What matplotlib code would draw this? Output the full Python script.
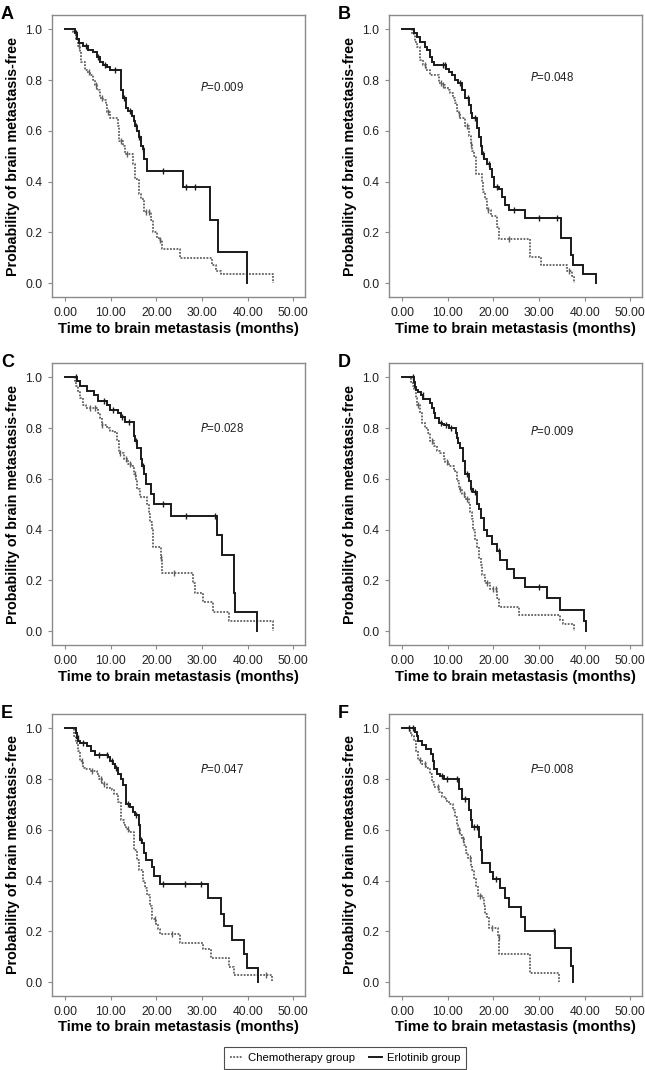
import numpy as np
import matplotlib
matplotlib.use("Agg")
import matplotlib.pyplot as plt
from matplotlib.lines import Line2D

plt.rcParams['font.family'] = ['Liberation Sans', 'DejaVu Sans']

# ---------------- data (event times and survival after each step) ----------------
panel_labels = ["A", "B", "C", "D", "E", "F"]
p_values = ["0.009", "0.048", "0.028", "0.009", "0.047", "0.008"]
x_ticks = [0, 10, 20, 30, 40, 50]
y_ticks = [0.0, 0.2, 0.4, 0.6, 0.8, 1.0]

# Panel A
a_erl_t = [2.2, 2.6, 3.1, 4.0, 5.1, 6.1, 6.9, 7.7, 8.4, 9.1, 9.9, 12.2, 12.6, 13.4, 13.9, 14.6, 15.0, 15.3,
           15.7, 16.1, 16.6, 17.0, 17.3, 17.9, 25.9, 31.8, 33.4, 39.9]
a_erl_s = [0.985, 0.96, 0.945, 0.935, 0.92, 0.91, 0.89, 0.87, 0.86, 0.85, 0.84, 0.76, 0.73, 0.69, 0.68, 0.66,
           0.64, 0.62, 0.60, 0.575, 0.54, 0.53, 0.49, 0.44, 0.38, 0.25, 0.125, 0.0]
a_erl_c = [2.5, 4.5, 7.2, 8.8, 11.0, 13.0, 14.2, 15.5, 16.3, 17.1, 21.5, 26.4, 28.5]
a_che_t = [1.8, 2.4, 2.9, 3.3, 3.6, 4.4, 4.9, 5.5, 6.1, 6.6, 7.1, 7.7, 8.4, 9.0, 9.3, 9.9, 11.5, 11.9, 12.6,
           13.1, 14.8, 15.3, 16.1, 16.6, 17.2, 18.8, 19.3, 20.1, 20.6, 21.2, 25.2, 32.1, 33.0, 34.2, 45.5]
a_che_s = [0.99, 0.96, 0.935, 0.91, 0.87, 0.84, 0.83, 0.82, 0.80, 0.78, 0.76, 0.73, 0.72, 0.70, 0.675, 0.65,
           0.62, 0.56, 0.54, 0.51, 0.47, 0.41, 0.35, 0.33, 0.28, 0.25, 0.20, 0.18, 0.17, 0.135, 0.10, 0.07,
           0.05, 0.035, 0.0]
a_che_c = [3.0, 5.2, 6.8, 8.0, 9.5, 12.3, 13.5, 17.8, 18.3, 20.8]

# Panel B
b_erl_t = [2.6, 3.3, 4.0, 5.0, 5.5, 6.1, 6.6, 6.9, 9.7, 10.2, 10.9, 11.7, 12.2, 13.1, 13.9, 14.7, 15.0, 15.3,
           16.4, 16.8, 17.2, 17.5, 18.0, 18.6, 19.3, 19.7, 20.2, 21.2, 21.9, 22.6, 23.4, 27.0, 34.9, 37.0,
           37.4, 39.6, 42.5]
b_erl_s = [0.985, 0.97, 0.95, 0.93, 0.92, 0.89, 0.87, 0.86, 0.845, 0.83, 0.82, 0.80, 0.79, 0.76, 0.73, 0.70,
           0.67, 0.65, 0.61, 0.575, 0.54, 0.51, 0.49, 0.47, 0.45, 0.42, 0.38, 0.37, 0.34, 0.31, 0.29, 0.255,
           0.18, 0.11, 0.07, 0.035, 0.0]
b_erl_c = [9.0, 9.5, 12.8, 14.4, 16.0, 17.8, 19.0, 20.8, 24.5, 30.0, 34.0]
b_che_t = [2.2, 2.9, 3.3, 3.9, 4.7, 5.3, 6.1, 8.2, 8.8, 9.5, 10.2, 10.6, 11.2, 11.7, 12.0, 12.4, 12.8, 13.9,
           14.6, 15.0, 15.3, 15.7, 16.1, 17.5, 17.8, 18.2, 18.6, 19.5, 20.9, 21.2, 28.0, 30.5, 36.1, 37.2, 37.6]
b_che_s = [0.98, 0.95, 0.93, 0.88, 0.86, 0.84, 0.82, 0.79, 0.78, 0.77, 0.76, 0.75, 0.73, 0.71, 0.68, 0.665,
           0.65, 0.62, 0.58, 0.55, 0.52, 0.50, 0.43, 0.40, 0.36, 0.33, 0.29, 0.265, 0.22, 0.175, 0.105, 0.07,
           0.05, 0.03, 0.0]
b_che_c = [5.0, 8.5, 9.0, 12.5, 14.2, 15.1, 18.9, 23.4, 36.5]

# Panel C
c_erl_t = [2.6, 3.3, 4.9, 6.4, 7.3, 9.3, 9.9, 11.7, 12.2, 13.1, 15.0, 15.2, 15.3, 15.8, 16.6, 16.9, 17.3, 17.7,
           18.8, 19.5, 23.1, 33.2, 34.3, 36.9, 37.2, 42.0]
c_erl_s = [0.985, 0.965, 0.945, 0.93, 0.905, 0.89, 0.87, 0.86, 0.845, 0.825, 0.80, 0.77, 0.75, 0.72, 0.68,
           0.65, 0.62, 0.58, 0.54, 0.50, 0.455, 0.38, 0.30, 0.15, 0.075, 0.0]
c_erl_c = [2.4, 8.5, 10.5, 12.5, 14.0, 15.6, 17.0, 21.5, 26.6, 32.8]
c_che_t = [2.2, 2.5, 2.9, 3.3, 3.9, 4.6, 7.3, 7.7, 8.0, 9.1, 9.9, 10.9, 11.3, 11.8, 12.9, 13.8, 14.5, 15.0,
           15.5, 15.8, 16.4, 18.0, 18.4, 18.7, 19.0, 19.3, 21.0, 21.3, 28.0, 28.5, 30.3, 32.3, 36.0, 45.5]
c_che_s = [0.985, 0.965, 0.94, 0.92, 0.89, 0.88, 0.86, 0.84, 0.81, 0.80, 0.79, 0.78, 0.75, 0.70, 0.68, 0.66,
           0.65, 0.62, 0.59, 0.56, 0.53, 0.50, 0.46, 0.43, 0.40, 0.33, 0.29, 0.23, 0.19, 0.15, 0.115, 0.075,
           0.04, 0.0]
c_che_c = [5.5, 6.5, 8.2, 12.0, 13.3, 14.3, 15.3, 21.0, 23.8]

# Panel D
d_erl_t = [2.6, 2.9, 3.1, 3.6, 4.1, 4.7, 6.2, 6.6, 6.9, 7.3, 8.0, 8.8, 9.3, 10.2, 11.9, 12.1, 12.3, 12.8, 13.4,
           13.9, 14.7, 15.1, 15.5, 16.4, 16.8, 17.2, 17.9, 18.5, 19.7, 20.8, 21.5, 23.0, 24.6, 27.0, 31.8,
           34.5, 39.8, 40.3]
d_erl_s = [0.98, 0.96, 0.95, 0.94, 0.93, 0.915, 0.90, 0.88, 0.86, 0.84, 0.82, 0.815, 0.81, 0.80, 0.78, 0.76,
           0.74, 0.72, 0.67, 0.62, 0.59, 0.56, 0.55, 0.50, 0.48, 0.445, 0.40, 0.375, 0.345, 0.315, 0.28,
           0.245, 0.21, 0.175, 0.13, 0.085, 0.04, 0.0]
d_erl_c = [2.3, 4.5, 8.5, 9.7, 10.8, 14.3, 15.2, 16.0, 21.2, 30.0]
d_che_t = [2.0, 2.3, 2.6, 3.0, 3.3, 3.9, 4.4, 5.1, 5.6, 6.2, 6.9, 7.6, 8.4, 9.1, 9.5, 10.2, 11.3, 12.0, 12.4,
           13.1, 13.9, 14.6, 14.9, 15.3, 15.5, 15.9, 16.4, 16.8, 17.2, 17.5, 18.2, 19.3, 20.8, 21.3, 25.7,
           34.5, 35.3, 37.6]
d_che_s = [0.98, 0.965, 0.95, 0.92, 0.89, 0.86, 0.82, 0.80, 0.78, 0.75, 0.73, 0.71, 0.70, 0.68, 0.665, 0.65,
           0.63, 0.59, 0.56, 0.54, 0.52, 0.50, 0.47, 0.44, 0.40, 0.36, 0.33, 0.29, 0.26, 0.22, 0.19, 0.165,
           0.13, 0.095, 0.065, 0.045, 0.03, 0.0]
d_che_c = [3.6, 6.5, 9.8, 12.8, 13.5, 14.2, 18.7, 20.0, 20.5]

# Panel E
e_erl_t = [2.4, 2.6, 2.9, 3.3, 4.9, 5.6, 6.6, 9.5, 9.9, 10.5, 10.9, 11.7, 12.2, 12.8, 13.4, 14.3, 14.8, 15.3,
           16.1, 16.4, 16.9, 17.3, 17.7, 19.0, 19.5, 20.7, 31.4, 34.1, 34.8, 36.6, 39.2, 39.8, 42.2]
e_erl_s = [0.98, 0.96, 0.95, 0.94, 0.93, 0.91, 0.895, 0.885, 0.87, 0.86, 0.845, 0.82, 0.80, 0.775, 0.70,
           0.69, 0.67, 0.66, 0.62, 0.56, 0.55, 0.51, 0.48, 0.455, 0.42, 0.385, 0.33, 0.27, 0.22, 0.165, 0.11,
           0.055, 0.0]
e_erl_c = [2.8, 4.0, 7.5, 9.2, 10.2, 11.2, 13.9, 15.6, 16.6, 21.5, 26.3, 29.8]
e_che_t = [2.0, 2.4, 2.9, 3.3, 3.9, 4.4, 5.5, 6.9, 7.5, 8.2, 9.1, 10.2, 10.7, 11.7, 12.2, 13.0, 13.4, 14.1,
           15.1, 15.8, 16.3, 17.0, 17.5, 18.0, 18.6, 19.0, 20.0, 20.4, 20.9, 25.2, 30.3, 31.9, 35.8, 36.9, 45.3]
e_che_s = [0.97, 0.94, 0.91, 0.87, 0.845, 0.84, 0.83, 0.82, 0.80, 0.78, 0.765, 0.755, 0.74, 0.71, 0.64, 0.62,
           0.605, 0.59, 0.52, 0.48, 0.44, 0.40, 0.37, 0.345, 0.30, 0.25, 0.23, 0.21, 0.19, 0.155, 0.13, 0.095,
           0.06, 0.03, 0.0]
e_che_c = [3.7, 6.0, 7.8, 8.6, 13.8, 19.7, 23.5, 44.0]

# Panel F
f_erl_t = [2.9, 3.2, 3.6, 4.4, 5.3, 6.4, 6.8, 7.1, 7.7, 8.4, 9.3, 12.4, 13.1, 14.6, 15.0, 15.3, 16.8, 17.2,
           17.5, 19.3, 19.9, 21.5, 22.6, 23.4, 26.1, 27.0, 33.6, 37.0, 37.4]
f_erl_s = [0.985, 0.97, 0.95, 0.935, 0.92, 0.90, 0.87, 0.84, 0.82, 0.81, 0.80, 0.76, 0.72, 0.68, 0.64, 0.61,
           0.57, 0.52, 0.47, 0.435, 0.405, 0.37, 0.33, 0.295, 0.255, 0.20, 0.135, 0.065, 0.0]
f_erl_c = [1.5, 2.5, 8.8, 9.8, 12.0, 13.8, 15.8, 16.5, 20.5, 33.2]
f_che_t = [1.8, 2.2, 2.7, 3.0, 3.4, 4.4, 5.3, 6.1, 6.6, 7.1, 8.0, 8.8, 9.7, 10.2, 11.2, 11.7, 12.0, 12.3, 12.7,
           13.1, 13.6, 14.0, 14.4, 15.0, 15.3, 15.7, 16.2, 16.6, 17.5, 17.9, 18.2, 18.6, 19.0, 21.0, 21.3,
           28.1, 34.3]
f_che_s = [0.98, 0.97, 0.95, 0.91, 0.875, 0.86, 0.845, 0.82, 0.79, 0.77, 0.75, 0.73, 0.715, 0.70, 0.68, 0.65,
           0.62, 0.60, 0.58, 0.565, 0.54, 0.51, 0.49, 0.46, 0.44, 0.41, 0.38, 0.34, 0.33, 0.30, 0.27, 0.255,
           0.215, 0.18, 0.11, 0.035, 0.0]
f_che_c = [4.0, 5.0, 7.8, 12.5, 13.3, 14.8, 17.0, 19.8, 21.2]

erl_times = [a_erl_t, b_erl_t, c_erl_t, d_erl_t, e_erl_t, f_erl_t]
erl_surv = [a_erl_s, b_erl_s, c_erl_s, d_erl_s, e_erl_s, f_erl_s]
erl_cens = [a_erl_c, b_erl_c, c_erl_c, d_erl_c, e_erl_c, f_erl_c]
che_times = [a_che_t, b_che_t, c_che_t, d_che_t, e_che_t, f_che_t]
che_surv = [a_che_s, b_che_s, c_che_s, d_che_s, e_che_s, f_che_s]
che_cens = [a_che_c, b_che_c, c_che_c, d_che_c, e_che_c, f_che_c]

# ---------------- layout ----------------
W, H = 645, 1070
fig = plt.figure(figsize=(W / 100, H / 100), dpi=100)

lefts = [52, 389]
tops = [15, 363, 714]
ax_w, ax_h = 253, 282

spine_col = "#8a8a8a"
erl_col = "#1a1a1a"
che_col = "#606060"
p_y = [0.77, 0.81, 0.80, 0.785, 0.838, 0.836]


def step_value(times, surv, t):
    times = np.asarray(times)
    surv = np.asarray(surv)
    idx = np.searchsorted(times, t, side="right") - 1
    return 1.0 if idx < 0 else surv[idx]


def draw_curve(ax, times, surv, cens, color, ls, lw):
    x = np.concatenate([[0.0], times])
    y = np.concatenate([[1.0], surv])
    ax.plot(x, y, drawstyle="steps-post", color=color, lw=lw, ls=ls, solid_joinstyle="miter")
    cy = [step_value(times, surv, c) for c in cens]
    ax.plot(cens, cy, ls="none", marker="|", ms=4, mew=1.0, color=color)


for i in range(6):
    r, c = divmod(i, 2)
    l = lefts[c]
    t = tops[r]
    ax = fig.add_axes([l / W, 1 - (t + ax_h) / H, ax_w / W, ax_h / H])
    draw_curve(ax, che_times[i], che_surv[i], che_cens[i], che_col, (0, (1, 0.8)), 1.3)
    draw_curve(ax, erl_times[i], erl_surv[i], erl_cens[i], erl_col, "-", 1.4)
    ax.set_xlim(-2.85, 52.55)
    ax.set_ylim(-0.054, 1.056)
    ax.set_xticks(x_ticks)
    ax.set_xticklabels([f"{v:.2f}" for v in x_ticks])
    ax.set_yticks(y_ticks)
    ax.set_yticklabels([f"{v:.1f}" for v in y_ticks])
    for s in ax.spines.values():
        s.set_color(spine_col)
        s.set_linewidth(1.0)
    ax.tick_params(direction="out", length=3, width=0.8, color=spine_col, labelsize=8.8,
                   labelcolor="#222222", pad=4)
    ax.set_xlabel("Time to brain metastasis (months)", fontsize=10.7, fontweight="bold", labelpad=2)
    ax.set_ylabel("Probability of brain metastasis-free", fontsize=10.3, fontweight="bold", labelpad=4)
    px = 34.3 if c == 0 else 32.9
    ax.text(px, p_y[i], r"$\it{P}$" + "=" + p_values[i], fontsize=8.3, ha="center", va="center",
            color="#222222")
    fig.text((l - 52 + 1) / W, 1 - (t - 9) / H, panel_labels[i], fontsize=13, fontweight="bold",
             ha="left", va="top")

handles = [Line2D([], [], color=che_col, lw=1.3, ls=(0, (1, 0.8))),
           Line2D([], [], color=erl_col, lw=1.4, ls="-")]
leg = fig.legend(handles, ["Chemotherapy group", "Erlotinib group"], loc="center",
                 bbox_to_anchor=(345 / W, 1 - 1058 / H), ncol=2, fontsize=8.2, frameon=True,
                 fancybox=False, handlelength=1.2, handletextpad=0.4, columnspacing=1.2,
                 borderpad=0.5)
leg.get_frame().set_edgecolor("#222222")
leg.get_frame().set_linewidth(0.8)

fig.savefig("out.png", dpi=100, facecolor="white")
